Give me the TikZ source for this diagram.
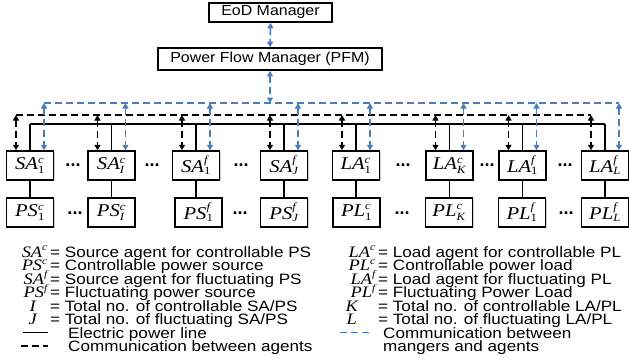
\documentclass[tikz,border=0pt]{standalone}
\usepackage{fontspec}
\setmainfont{Liberation Sans}
\newfontfamily\sansw[FakeStretch=1.1]{Liberation Sans}
\newfontfamily\sanswl[FakeStretch=1.14]{Liberation Sans}
\newfontfamily\serifw[FakeStretch=1.15]{Liberation Serif}
\usetikzlibrary{arrows.meta,shadows}
\definecolor{cblue}{RGB}{74,126,187}
\newcommand\BL[3]{{\fontsize{18}{18}\selectfont\serifw\itshape #1${}^{\hbox{\fontsize{11}{11}\selectfont\serifw\itshape #2}}_{\hbox{\fontsize{11}{11}\selectfont\serifw\upshape #3}}$}}
\newcommand\LS[2]{{\fontsize{16}{16}\selectfont\serifw\itshape #1${}^{\hbox{\fontsize{10}{10}\selectfont\serifw\itshape #2}}$}}
\begin{document}
\begin{tikzpicture}[x=1pt,y=-1pt,
  box/.style={draw,line width=1.5pt,fill=white,minimum width=47pt,minimum height=29pt,inner sep=0pt,
    drop shadow={shadow xshift=1pt,shadow yshift=-1pt,opacity=0.35,fill=gray}},
  mgr/.style={draw,line width=1.6pt,fill=white,inner sep=0pt,font=\fontsize{14.5}{14.5}\selectfont\sansw,
    drop shadow={shadow xshift=1pt,shadow yshift=-1pt,opacity=0.35,fill=gray}},
  pline/.style={line width=1.6pt},
  tips/.style={{Triangle[length=5.5pt,width=6pt]}-{Triangle[length=5.5pt,width=6pt]}},
  bdash/.style={line width=1.6pt,dash pattern=on 7pt off 4pt},
  cdash/.style={bdash,cblue},
  dotsn/.style={font=\bfseries\fontsize{18}{18}\selectfont,inner sep=0pt},
  leg/.style={font=\fontsize{15}{15}\selectfont\sanswl,inner sep=0pt}
]
\useasboundingbox (0,0) rectangle (629,360);

% managers
\node[mgr,minimum width=123pt,minimum height=19pt] (eod) at (270.5,12.5) {EoD Manager};
\node[mgr,minimum width=224pt,minimum height=22pt] (pfm) at (270,59) {Power Flow Manager (PFM)};

% agents
\node[box] (sa1)  at (30,165.5)  {\BL{SA}{c}{1}};
\node[box] (sai)  at (111.5,165.5) {\BL{SA}{c}{\itshape I}};
\node[box] (saf1) at (196,165.5) {\BL{SA}{f}{1}};
\node[box] (saj)  at (284,165.5) {\BL{SA}{f}{\itshape J}};
\node[box] (la1)  at (356,165.5) {\BL{LA}{c}{1}};
\node[box] (lak)  at (449.5,165.5) {\BL{LA}{c}{\itshape K}};
\node[box] (laf1) at (522.5,165.5) {\BL{LA}{f}{1}};
\node[box] (lal)  at (605,165.5) {\BL{LA}{f}{\itshape L}};

% resources
\node[box] (ps1)  at (30,212.5)  {\BL{PS}{c}{1}};
\node[box] (psi)  at (111.5,212.5) {\BL{PS}{c}{\itshape I}};
\node[box] (psf1) at (198.5,212.5) {\BL{PS}{f}{1}};
\node[box] (psj)  at (284,212.5) {\BL{PS}{f}{\itshape J}};
\node[box] (pl1)  at (356.5,212.5) {\BL{PL}{c}{1}};
\node[box] (plk)  at (449,212.5) {\BL{PL}{c}{\itshape K}};
\node[box] (plf1) at (522,212.5) {\BL{PL}{f}{1}};
\node[box] (pll)  at (605,212.5) {\BL{PL}{f}{\itshape L}};

% dots
\foreach \x in {73,152,241,403,487,565} \node[dotsn] at (\x,165) {...};
\foreach \x in {75,240,402,566} \node[dotsn] at (\x,213) {...};

% bus levels
\coordinate (cl) at (0,103);
\coordinate (bl) at (0,115);
\coordinate (sl) at (0,124);

\foreach \n in {sa1,sai,saf1,saj,la1,lak,laf1,lal}{
  \coordinate (\n-b) at ([xshift=-14pt]\n.north);
  \coordinate (\n-c) at ([xshift=14pt]\n.north);
}

% power line
\draw[pline] (sa1.north |- sl) -- (lal.north |- sl);
\foreach \n in {sa1,sai,saf1,saj,la1,lak,laf1,lal} \draw[pline] (\n.north |- sl) -- (\n.north);
\foreach \a/\r in {sa1/ps1,sai/psi,saf1/psf1,saj/psj,la1/pl1,lak/plk,laf1/plf1,lal/pll}
  \draw[pline] (\a.south) -- (\a.south |- \r.north);

% agent communication
\draw[bdash] (sa1-b |- bl) -- (lal-b |- bl);
\foreach \n in {sa1,sai,saf1,saj,la1,lak,laf1,lal} \draw[bdash,tips] (\n-b |- bl) -- (\n-b);

% manager communication
\draw[cdash] (sa1-c |- cl) -- (lal-c |- cl);
\foreach \n in {sa1,sai,saf1,saj,la1,lak,laf1,lal} \draw[cdash,tips] (\n-c |- cl) -- (\n-c);
\draw[cdash,tips] (pfm.south) -- (pfm.south |- cl);
\draw[cdash,tips] (eod.south) -- (pfm.north);

% legend left
\node[leg,anchor=base east] (l1s) at (48,257) {\LS{SA}{c}};
\node[leg,anchor=base west] (l1t) at (50,257) {= Source agent for controllable PS};
\node[leg,anchor=base east] (l2s) at (48,270.5) {\LS{PS}{c}};
\node[leg,anchor=base west] (l2t) at (50,270.5) {= Controllable power source};
\node[leg,anchor=base east] (l3s) at (48,284) {\LS{SA}{f}};
\node[leg,anchor=base west] (l3t) at (50,284) {= Source agent for fluctuating PS};
\node[leg,anchor=base east] (l4s) at (48,297.5) {\LS{PS}{f}};
\node[leg,anchor=base west] (l4t) at (50,297.5) {= Fluctuating power source};
\node[leg,anchor=base] (l5s) at (33,311) {\LS{I}{}};
\node[leg,anchor=base west] (l5t) at (50,311) {= Total no. of controllable SA/PS};
\node[leg,anchor=base] (l6s) at (33,324.5) {\LS{J}{}};
\node[leg,anchor=base west] (l6t) at (50,324.5) {= Total no. of fluctuating SA/PS};
\draw[pline] (23,332.5) -- (48,332.5);
\node[leg,anchor=base west] (l7t) at (68,338) {Electric power line};
\draw[bdash] (21,346) -- (48,346);
\node[leg,anchor=base west] (l8t) at (68,351.5) {Communication between agents};

% legend right
\node[leg,anchor=base east] (r1s) at (376,257) {\LS{LA}{c}};
\node[leg,anchor=base west] (r1t) at (378,257) {= Load agent for controllable PL};
\node[leg,anchor=base east] (r2s) at (376,270.5) {\LS{PL}{c}};
\node[leg,anchor=base west] (r2t) at (378,270.5) {= Controllable power load};
\node[leg,anchor=base east] (r3s) at (376,284) {\LS{LA}{f}};
\node[leg,anchor=base west] (r3t) at (378,284) {= Load agent for fluctuating PL};
\node[leg,anchor=base east] (r4s) at (376,297.5) {\LS{PL}{f}};
\node[leg,anchor=base west] (r4t) at (378,297.5) {= Fluctuating Power Load};
\node[leg,anchor=base] (r5s) at (352,311) {\LS{K}{}};
\node[leg,anchor=base west] (r5t) at (378,311) {= Total no. of controllable LA/PL};
\node[leg,anchor=base] (r6s) at (352,324.5) {\LS{L}{}};
\node[leg,anchor=base west] (r6t) at (378,324.5) {= Total no. of fluctuating LA/PL};
\draw[cdash] (340,332.5) -- (370,332.5);
\node[leg,anchor=base west] (r7t) at (383,338) {Communication between};
\node[leg,anchor=base west] (r8t) at (383,351.5) {mangers and agents};
\end{tikzpicture}
\end{document}
